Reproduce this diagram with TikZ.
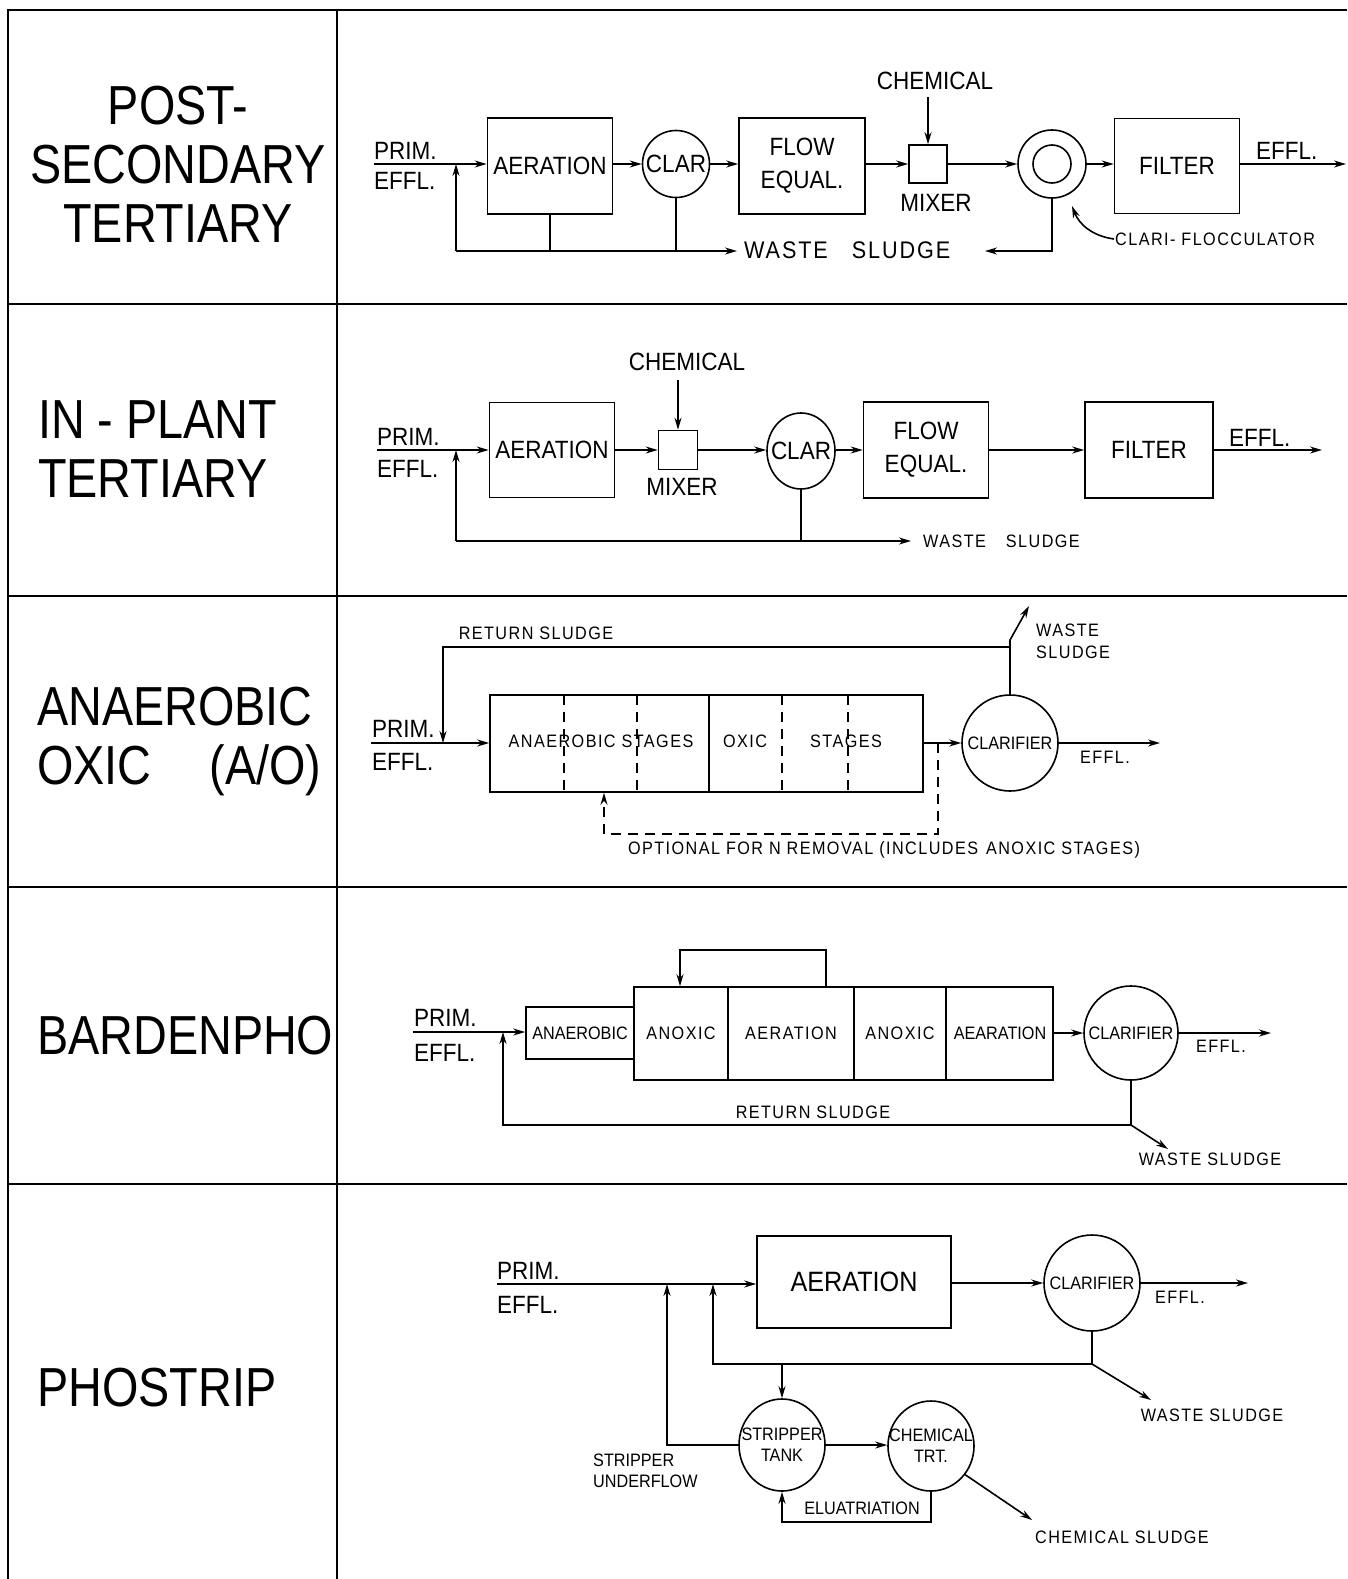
\documentclass[tikz,border=0pt]{standalone}
\usepackage{fontspec}
\setmainfont{Liberation Sans}[FakeStretch=0.9]
\newfontfamily\bigfam{Liberation Sans}[FakeStretch=0.85]
\newfontfamily\spfam{Liberation Sans}[FakeStretch=0.9,LetterSpace=8]
\usetikzlibrary{arrows.meta,shapes.geometric}
\newcommand\ftbig{\bigfam\fontsize{55}{59}\selectfont}
\newcommand\ftmed{\normalfont\fontsize{25}{33}\selectfont}
\newcommand\ftmsp{\spfam\fontsize{24}{30}\selectfont}
\newcommand\ftsm{\spfam\fontsize{18}{22}\selectfont}
\newcommand\ftxs{\normalfont\fontsize{18}{21}\selectfont}
\begin{document}
\begin{tikzpicture}[x=1pt,y=-1pt,
  ln/.style={line width=1.6pt},
  arr/.style={line width=1.6pt,-{Stealth[length=12pt,width=7pt]}},
  dsh/.style={line width=1.6pt,dash pattern=on 10pt off 7pt},
  frm/.style={line width=2.2pt},
  box/.style={draw,line width=1.6pt,rectangle,inner sep=0pt,align=center,font=\ftmed},
  circ/.style={draw,line width=1.6pt,ellipse,inner sep=0pt},
  lbl/.style={inner sep=0pt,align=left},
  txt/.style={inner sep=1pt,align=center}]
\useasboundingbox (0,0) rectangle (1347,1579);
% ---------- frame ----------
\draw[frm] (1347,10) -- (8,10) -- (8,1579);
\draw[frm] (337,10) -- (337,1579);
\foreach \yy in {304,596,887,1184} \draw[frm] (8,\yy) -- (1347,\yy);

% ---------- row 1 : post-secondary tertiary ----------
\node[lbl,align=center,font=\ftbig] (t1) at (178,164) {POST-\\SECONDARY\\TERTIARY};
\node[txt,font=\ftmed,anchor=base west] (p1) at (373,159) {PRIM.};
\node[txt,font=\ftmed,anchor=base west] (e1) at (373,189) {EFFL.};
\coordinate (i1) at (374,164);
\node[box,minimum width=125pt,minimum height=96pt] (aer1) at (550,166) {AERATION};
\node[circ,minimum width=67pt,minimum height=67pt] (clar1) at (676,164) {};
\node[txt,font=\ftmed] (clar1t) at (clar1) {CLAR};
\node[box,minimum width=126pt,minimum height=96pt] (flow1) at (802,166) {FLOW\\EQUAL.};
\node[box,minimum width=38pt,minimum height=38pt] (mix1) at (928,164) {};
\node[txt,font=\ftmed] (chem1) at (935,81) {CHEMICAL};
\coordinate (c1) at (928,97);
\node[txt,font=\ftmed] (mxl1) at (936,203) {MIXER};
\node[circ,minimum width=68pt,minimum height=68pt] (cf1) at (1052,164) {};
\node[circ,minimum width=38pt,minimum height=38pt] (cfi1) at (1052,164) {};
\node[box,minimum width=125pt,minimum height=95pt] (filt1) at (1177,166) {FILTER};
\node[txt,font=\ftmed,anchor=base west] (o1) at (1255,159) {EFFL.};
\coordinate (oe1) at (1346,164);
\draw[arr] (i1) -- (i1 -| aer1.west);
\draw[arr] (aer1.east |- clar1.west) -- (clar1.west);
\draw[arr] (clar1.east) -- (clar1.east -| flow1.west);
\draw[arr] (flow1.east |- mix1.west) -- (mix1.west);
\draw[arr] (c1) -- (mix1.north);
\draw[arr] (mix1.east) -- (cf1.west);
\draw[arr] (cf1.east) -- (cf1.east -| filt1.west);
\draw[arr] (filt1.east |- oe1) -- (oe1);
\coordinate (w1a) at (456,251);
\coordinate (w1b) at (737,251);
\draw[ln] (aer1.south) -- (aer1.south |- w1a);
\draw[ln] (clar1.south) -- (clar1.south |- w1a);
\draw[arr] (w1a) -- (w1b);
\draw[arr] (w1a) -- (w1a |- i1);
\node[txt,font=\ftmsp,anchor=west] (ws1) at (743,250) {WASTE\hspace{24pt}SLUDGE};
\coordinate (s1) at (985,251);
\draw[arr] (cf1.south) |- (s1);
\node[txt,font=\ftsm,anchor=west] (cfl1) at (1114,239) {CLARI- FLOCCULATOR};
\draw[arr] (cfl1.west) .. controls (1092,236) and (1079,224) .. (1072,206);

% ---------- row 2 : in-plant tertiary ----------
\node[lbl,font=\ftbig,anchor=west] (t2) at (38,449) {IN - PLANT\\TERTIARY};
\node[txt,font=\ftmed,anchor=base west] (p2) at (376,445) {PRIM.};
\node[txt,font=\ftmed,anchor=base west] (e2) at (376,477) {EFFL.};
\coordinate (i2) at (377,450);
\node[box,minimum width=125pt,minimum height=95pt] (aer2) at (552,450) {AERATION};
\node[box,minimum width=39pt,minimum height=39pt] (mix2) at (678,450) {};
\node[txt,font=\ftmed] (chem2) at (687,362) {CHEMICAL};
\coordinate (c2) at (678,380);
\node[txt,font=\ftmed] (mxl2) at (682,487) {MIXER};
\node[circ,minimum width=68pt,minimum height=76pt] (clar2) at (801,451) {};
\node[txt,font=\ftmed] (clar2t) at (clar2) {CLAR};
\node[box,minimum width=125pt,minimum height=96pt] (flow2) at (926,450) {FLOW\\EQUAL.};
\node[box,minimum width=128pt,minimum height=96pt] (filt2) at (1149,450) {FILTER};
\node[txt,font=\ftmed,anchor=base west] (o2) at (1228,446) {EFFL.};
\coordinate (oe2) at (1322,450);
\draw[arr] (i2) -- (i2 -| aer2.west);
\draw[arr] (aer2.east) -- (mix2.west);
\draw[arr] (c2) -- (mix2.north);
\draw[arr] (mix2.east) -- (mix2.east -| clar2.west);
\draw[arr] (clar2.east |- flow2.west) -- (flow2.west);
\draw[arr] (flow2.east) -- (filt2.west);
\draw[arr] (filt2.east) -- (oe2);
\coordinate (w2a) at (456,541);
\coordinate (w2b) at (911,541);
\draw[ln] (clar2.south) -- (clar2.south |- w2a);
\draw[arr] (w2a) -- (w2b);
\draw[arr] (w2a) -- (w2a |- i2);
\node[txt,font=\ftsm,anchor=west] (ws2) at (922,541) {WASTE\hspace{20pt}SLUDGE};

% ---------- row 3 : anaerobic oxic ----------
\node[lbl,font=\ftbig,anchor=west] (t3) at (37,741) {ANAEROBIC\\OXIC\hspace{58pt}(A/O)};
\node[txt,font=\ftmed,anchor=base west] (p3) at (371,737) {PRIM.};
\node[txt,font=\ftmed,anchor=base west] (e3) at (371,770) {EFFL.};
\coordinate (i3) at (371,743);
\node[box,minimum width=433pt,minimum height=97pt] (box3) at (706.5,743.5) {};
\foreach \xx in {564,637,782,848} \draw[dsh] (\xx,695) -- (\xx,792);
\draw[ln] (709,695) -- (709,792);
\node[txt,font=\ftsm] (an3) at (601,741) {ANAEROBIC STAGES};
\node[txt,font=\ftsm] (ox3) at (745,741) {OXIC};
\node[txt,font=\ftsm] (st3) at (846,741) {STAGES};
\node[circ,minimum width=96pt,minimum height=96pt] (clar3) at (1010,743) {};
\node[txt,font=\ftxs] (clar3t) at (clar3) {CLARIFIER};
\draw[arr] (i3) -- (i3 -| box3.west);
\draw[arr] (box3.east |- clar3.west) -- (clar3.west);
\coordinate (oe3) at (1160,743);
\draw[arr] (clar3.east) -- (oe3);
\node[txt,font=\ftsm] (o3) at (1105,757) {EFFL.};
\coordinate (r3a) at (1010,647);
\coordinate (r3b) at (443,647);
\draw[arr] (clar3.north) -- (r3a) -- (r3b) -- (r3b |- i3);
\coordinate (r3k) at (1010,640);
\coordinate (w3) at (1029,606);
\draw[arr] (r3a) -- (r3k) -- (w3);
\node[txt,font=\ftsm,anchor=west,align=left] (ws3) at (1035,641) {WASTE\\SLUDGE};
\node[txt,font=\ftsm] (rs3) at (536,633) {RETURN SLUDGE};
\coordinate (d3a) at (938,743);
\coordinate (d3b) at (938,834);
\coordinate (d3c) at (604,834);
\draw[dsh,-{Stealth[length=12pt,width=7pt]}] (d3a) -- (d3b) -- (d3c) -- (d3c |- box3.south);
\node[txt,font=\ftsm] (op3) at (884,850) {OPTIONAL FOR N REMOVAL (INCLUDES\hspace{8pt}ANOXIC STAGES)};

% ---------- row 4 : bardenpho ----------
\node[lbl,font=\ftbig,anchor=west] (t4) at (37,1036) {BARDENPHO};
\node[txt,font=\ftmed,anchor=base west] (p4) at (413,1026) {PRIM.};
\node[txt,font=\ftmed,anchor=base west] (e4) at (413,1061) {EFFL.};
\coordinate (i4) at (413,1032);
\node[box,minimum width=108pt,minimum height=52pt] (an4) at (580,1033) {};
\node[box,minimum width=419pt,minimum height=93pt] (box4) at (843.5,1033.5) {};
\foreach \xx in {728,854,946} \draw[ln] (\xx,987) -- (\xx,1080);
\node[txt,font=\ftxs] (t4a) at (580,1033) {ANAEROBIC};
\node[txt,font=\ftsm] (t4b) at (681,1033) {ANOXIC};
\node[txt,font=\ftsm] (t4c) at (791,1033) {AERATION};
\node[txt,font=\ftsm] (t4d) at (900,1033) {ANOXIC};
\node[txt,font=\ftxs] (t4e) at (1000,1033) {AEARATION};
\coordinate (l4a) at (826,950);
\coordinate (l4b) at (680,950);
\draw[arr] (box4.north -| l4a) -- (l4a) -- (l4b) -- (l4b |- box4.north);
\node[circ,minimum width=94pt,minimum height=94pt] (clar4) at (1131,1033) {};
\node[txt,font=\ftxs] (clar4t) at (clar4) {CLARIFIER};
\draw[arr] (i4) -- (i4 -| an4.west);
\draw[arr] (box4.east |- clar4.west) -- (clar4.west);
\coordinate (oe4) at (1271,1033);
\draw[arr] (clar4.east) -- (oe4);
\node[txt,font=\ftsm] (o4) at (1221,1046) {EFFL.};
\coordinate (r4a) at (1131,1125);
\coordinate (r4b) at (503,1125);
\draw[arr] (clar4.south) -- (r4a) -- (r4b) -- (r4b |- i4);
\node[txt,font=\ftsm] (rs4) at (813,1112) {RETURN SLUDGE};
\coordinate (w4) at (1168,1149);
\draw[arr] (r4a) -- (w4);
\node[txt,font=\ftsm] (ws4) at (1210,1159) {WASTE SLUDGE};

% ---------- row 5 : phostrip ----------
\node[lbl,font=\ftbig,anchor=west] (t5) at (37,1388) {PHOSTRIP};
\node[txt,font=\ftmed,anchor=base west] (p5) at (496,1279) {PRIM.};
\node[txt,font=\ftmed,anchor=base west] (e5) at (496,1313) {EFFL.};
\coordinate (i5) at (497,1284);
\node[box,minimum width=194pt,minimum height=92pt,font=\normalfont\fontsize{28}{30}\selectfont] (aer5) at (854,1282) {AERATION};
\node[circ,minimum width=96pt,minimum height=96pt] (clar5) at (1092,1283) {};
\node[txt,font=\ftxs] (clar5t) at (clar5) {CLARIFIER};
\draw[arr] (i5) -- (i5 -| aer5.west);
\draw[arr] (aer5.east |- clar5.west) -- (clar5.west);
\coordinate (oe5) at (1248,1283);
\draw[arr] (clar5.east) -- (oe5);
\node[txt,font=\ftsm] (o5) at (1180,1297) {EFFL.};
\coordinate (r5a) at (1092,1364);
\coordinate (r5b) at (713,1364);
\draw[arr] (clar5.south) -- (r5a) -- (r5b) -- (r5b |- i5);
\coordinate (w5) at (1151,1400);
\draw[arr] (r5a) -- (w5);
\node[txt,font=\ftsm] (ws5) at (1212,1415) {WASTE SLUDGE};
\node[circ,minimum width=86pt,minimum height=92pt] (st5) at (782,1445) {};
\node[txt,font=\ftxs] (st5t) at (st5) {STRIPPER\\TANK};
\coordinate (d5) at (782,1364);
\draw[arr] (d5) -- (st5.north);
\coordinate (u5) at (667,1445);
\draw[arr] (st5.west) -- (u5) -- (u5 |- i5);
\node[txt,font=\ftxs,anchor=west,align=left] (su5) at (592,1471) {STRIPPER\\UNDERFLOW};
\node[circ,minimum width=86pt,minimum height=90pt] (ch5) at (931,1446) {};
\node[txt,font=\ftxs] (ch5t) at (ch5) {CHEMICAL\\TRT.};
\draw[arr] (st5.east) -- (st5.east -| ch5.west);
\coordinate (e5a) at (931,1522);
\coordinate (e5b) at (782,1522);
\draw[arr] (ch5.south) -- (e5a) -- (e5b) -- (st5.south);
\node[txt,font=\ftxs] (el5) at (862,1508) {ELUATRIATION};
\coordinate (cs5) at (1032,1520);
\draw[arr] (ch5.-40) -- (cs5);
\node[txt,font=\ftsm] (csl5) at (1122,1537) {CHEMICAL SLUDGE};
\end{tikzpicture}
\end{document}
